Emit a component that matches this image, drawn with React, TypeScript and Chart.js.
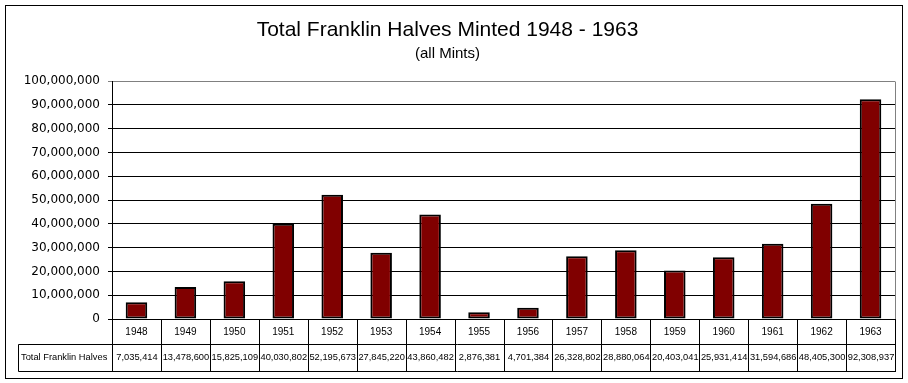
import React, { useEffect, useRef } from "react";
import { Chart, registerables } from "chart.js";

Chart.register(...registerables);

const years: string[] = ["1948","1949","1950","1951","1952","1953","1954","1955","1956","1957","1958","1959","1960","1961","1962","1963"];
const minted: number[] = [7035414,13478600,15825109,40030802,52195673,27845220,43860482,2876381,4701384,26328802,28880064,20403041,25931414,31594686,48405300,92308937];
const seriesName = "Total Franklin Halves";
const titleText = "Total Franklin Halves Minted 1948 - 1963";
const subtitleText = "(all Mints)";
const yMax = 100000000;
const yStep = 10000000;

const fmt = (v: number) => Math.round(v).toLocaleString("en-US");

const tablePlugin = {
  id: "dataTable",
  afterDraw(chart: any) {
    const ctx = chart.ctx as CanvasRenderingContext2D;
    const area = chart.chartArea;
    const n = years.length;
    const colW = (area.right - area.left) / n;
    const rowTop = area.bottom;
    const rowMid = 344;
    const rowBot = 371;
    const labelLeft = 18;
    ctx.save();
    ctx.strokeStyle = "#808080";
    ctx.lineWidth = 1;
    ctx.beginPath();
    ctx.moveTo(Math.round(area.right) + 0.5, Math.round(area.top) + 0.5);
    ctx.lineTo(Math.round(area.right) + 0.5, Math.round(area.bottom));
    ctx.stroke();
    ctx.strokeStyle = "#000";
    ctx.beginPath();
    ctx.moveTo(labelLeft + 0.5, rowMid + 0.5);
    ctx.lineTo(Math.round(area.right) + 1, rowMid + 0.5);
    ctx.moveTo(labelLeft + 0.5, rowBot + 0.5);
    ctx.lineTo(Math.round(area.right) + 1, rowBot + 0.5);
    ctx.moveTo(labelLeft + 0.5, rowMid + 0.5);
    ctx.lineTo(labelLeft + 0.5, rowBot + 0.5);
    for (let i = 0; i <= n; i++) {
      const x = Math.round(area.left + i * colW) + 0.5;
      ctx.moveTo(x, Math.round(rowTop));
      ctx.lineTo(x, rowBot + 0.5);
    }
    ctx.stroke();
    ctx.strokeRect(5.5, 5.5, 897, 373);
    ctx.fillStyle = "#000";
    ctx.font = '9.3px "Liberation Sans", Arial, sans-serif';
    ctx.textBaseline = "middle";
    ctx.textAlign = "left";
    ctx.fillText(seriesName, 21, 357.5);
    ctx.textAlign = "center";
    for (let i = 0; i < n; i++) {
      const cx = area.left + (i + 0.5) * colW + 0.5;
      ctx.fillText(fmt(minted[i]), cx, 357.5);
    }
    ctx.restore();
  },
};

export default function App() {
  const ref = useRef<HTMLCanvasElement>(null);
  useEffect(() => {
    document.body.style.margin = "0";
    const canvas = ref.current!;
    Chart.defaults.color = "#000";
    const chart = new Chart(canvas, {
      type: "bar",
      data: {
        labels: years,
        datasets: [
          {
            label: seriesName,
            data: minted,
            backgroundColor: "#800000",
            borderColor: "#000",
            borderWidth: 2,
            borderSkipped: false,
            categoryPercentage: 1,
            barPercentage: 0.44,
          },
        ],
      },
      options: {
        animation: false,
        responsive: false,
        devicePixelRatio: 1,
        layout: { padding: { left: 0, right: 13, top: 0, bottom: 0 } },
        plugins: {
          legend: { display: false },
          tooltip: { enabled: false },
          title: {
            display: true,
            text: titleText,
            color: "#000",
            font: { family: '"Liberation Sans", Arial, sans-serif', size: 21, weight: "normal", lineHeight: 1 },
            padding: { top: 20, bottom: 5 },
          },
          subtitle: {
            display: true,
            text: subtitleText,
            color: "#000",
            font: { family: '"Liberation Sans", Arial, sans-serif', size: 15, weight: "normal", lineHeight: 1 },
            padding: { top: 0, bottom: 20 },
          },
        },
        scales: {
          x: {
            grid: { display: false, drawTicks: false },
            border: { display: true, color: "#000", width: 1 },
            ticks: {
              color: "#000",
              font: { family: '"Liberation Sans", Arial, sans-serif', size: 10 },
              padding: 7,
              maxRotation: 0,
              autoSkip: false,
            },
            afterFit: (s: any) => {
              s.height = 64;
            },
          },
          y: {
            min: 0,
            max: yMax,
            grid: {
              color: (c: any) => (c.tick && c.tick.value === yMax ? "#808080" : "#000"),
              lineWidth: 1,
              drawTicks: true,
              tickLength: 4,
            },
            border: { display: true, color: "#000", width: 1 },
            ticks: {
              stepSize: yStep,
              color: "#000",
              font: { family: '"DejaVu Sans", sans-serif', size: 12 },
              padding: 8,
              callback: (v: any) => fmt(Number(v)),
            },
            afterFit: (s: any) => {
              s.width = 112;
            },
          },
        },
      },
      plugins: [tablePlugin],
    });
    return () => chart.destroy();
  }, []);
  return (
    <div style={{ width: 908, height: 383 }}>
      <canvas ref={ref} width={908} height={383} style={{ display: "block" }} />
    </div>
  );
}
